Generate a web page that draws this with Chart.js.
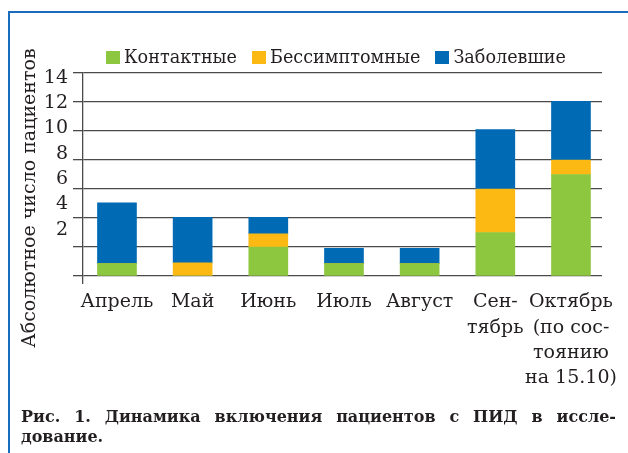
<!DOCTYPE html>
<html>
<head>
<meta charset="utf-8">
<script src="https://cdn.jsdelivr.net/npm/chart.js@4/dist/chart.umd.min.js"></script>
<style>
  html, body { margin: 0; padding: 0; background: #fff; }
  body { width: 628px; height: 453px; position: relative; overflow: hidden; font-family: "DejaVu Serif", serif; color: #231f20; }
  #frame { position: absolute; left: 8px; top: 11px; right: -4px; bottom: -4px; border-left: 2px solid #1a6cbf; border-top: 2px solid #1a6cbf; }
  #chart { position: absolute; left: 0; top: 0; }
  #legend { position: absolute; left: 106px; top: 48px; height: 19px; display: flex; align-items: center; font-size: 17.6px; line-height: 19px; white-space: nowrap; }
  #legend .item { display: flex; align-items: center; margin-right: 15px; }
  #legend .box { width: 14px; height: 13px; margin-right: 4px; }
  #ytitle { position: absolute; left: -132px; top: 186px; width: 320px; height: 24px; line-height: 24px; text-align: center; font-size: 19px; transform: rotate(-90deg); white-space: nowrap; }
  #caption { position: absolute; left: 21px; top: 407px; width: 595px; font-size: 16px; font-weight: bold; line-height: 20px; }
  #caption .l1 { text-align: justify; text-align-last: justify; white-space: nowrap; }
</style>
</head>
<body>
<div id="frame"></div>
<canvas id="chart" width="628" height="453"></canvas>
<div id="legend"></div>
<div id="ytitle">Абсолютное число пациентов</div>
<div id="caption"><div class="l1">Рис. 1. Динамика включения пациентов с ПИД в иссле-</div><div>дование.</div></div>
<script>
// ---- data ----
const categories = [
  ['Апрель'], ['Май'], ['Июнь'], ['Июль'], ['Август'],
  ['Сен-', 'тябрь'],
  ['Октябрь', '(по сос-', 'тоянию', 'на 15.10)']
];
const seriesNames = ['Контактные', 'Бессимптомные', 'Заболевшие'];
const contact      = [0.85, 0,    2,    0.85, 0.85, 3,   7];
const asymptomatic = [0,    0.9,  0.9,  0,    0,    3,   1];
const sick         = [4.2,  3.15, 1.15, 1.05, 1.05, 4.1, 4.05];
const yTickLabels  = [2, 4, 6, 8, 10, 12, 14];
const colors = ['#8dc63f', '#fdb913', '#006ab4'];

const ink = '#231f20';
const gridCol = '#4a4a4a';
const X_MIN = -0.449, X_MAX = 6.41;

Chart.defaults.font.family = '"DejaVu Serif", serif';
Chart.defaults.color = ink;

const toPoints = arr => arr.map((v, i) => ({ x: i, y: v }));
const seriesValues = [contact, asymptomatic, sick];

const chart = new Chart(document.getElementById('chart'), {
  type: 'bar',
  data: {
    datasets: seriesValues.map((vals, k) => ({
      label: seriesNames[k],
      data: toPoints(vals),
      backgroundColor: colors[k],
      borderWidth: 0,
      barThickness: 39
    }))
  },
  options: {
    responsive: false,
    animation: false,
    devicePixelRatio: 1,
    layout: { padding: { top: 73, right: 26, bottom: 0, left: 0 } },
    plugins: { legend: { display: false }, tooltip: { enabled: false } },
    scales: {
      x: {
        type: 'linear',
        stacked: true,
        offset: false,
        min: X_MIN,
        max: X_MAX,
        afterBuildTicks: s => {
          s.ticks = [{ value: X_MIN }].concat(categories.map((c, i) => ({ value: i })));
        },
        afterFit: s => { s.height = 177; },
        border: { display: false },
        grid: {
          offset: false,
          drawOnChartArea: false,
          drawTicks: true,
          tickLength: 8,
          lineWidth: 1.3,
          color: ctx => ctx.index === 0 ? gridCol : 'rgba(0,0,0,0)'
        },
        ticks: {
          autoSkip: false,
          maxRotation: 0,
          padding: 6,
          font: { size: 19, lineHeight: 1.32 },
          color: ink,
          callback: v => Number.isInteger(v) && categories[v] ? categories[v] : ''
        }
      },
      y: {
        stacked: true,
        position: 'left',
        weight: 0,
        min: 0,
        max: 14,
        afterFit: s => { s.width = 10; },
        border: { display: true, color: gridCol, width: 1.3 },
        grid: { color: gridCol, lineWidth: 1.3, tickLength: 10, drawTicks: true },
        ticks: { stepSize: 2, display: false }
      },
      y2: {
        position: 'left',
        weight: 1,
        min: -1.64,
        max: 14.36,
        afterBuildTicks: s => { s.ticks = yTickLabels.map(v => ({ value: v })); },
        afterFit: s => { s.width = 73; },
        border: { display: false },
        grid: { display: false, drawTicks: false },
        ticks: {
          padding: 5,
          font: { size: 19 },
          color: ink,
          callback: v => String(v)
        }
      }
    }
  }
});

// HTML legend built from the chart's datasets
const legendEl = document.getElementById('legend');
chart.data.datasets.forEach(ds => {
  const item = document.createElement('div');
  item.className = 'item';
  const box = document.createElement('span');
  box.className = 'box';
  box.style.background = ds.backgroundColor;
  const txt = document.createElement('span');
  txt.textContent = ds.label;
  item.appendChild(box);
  item.appendChild(txt);
  legendEl.appendChild(item);
});
</script>
</body>
</html>
